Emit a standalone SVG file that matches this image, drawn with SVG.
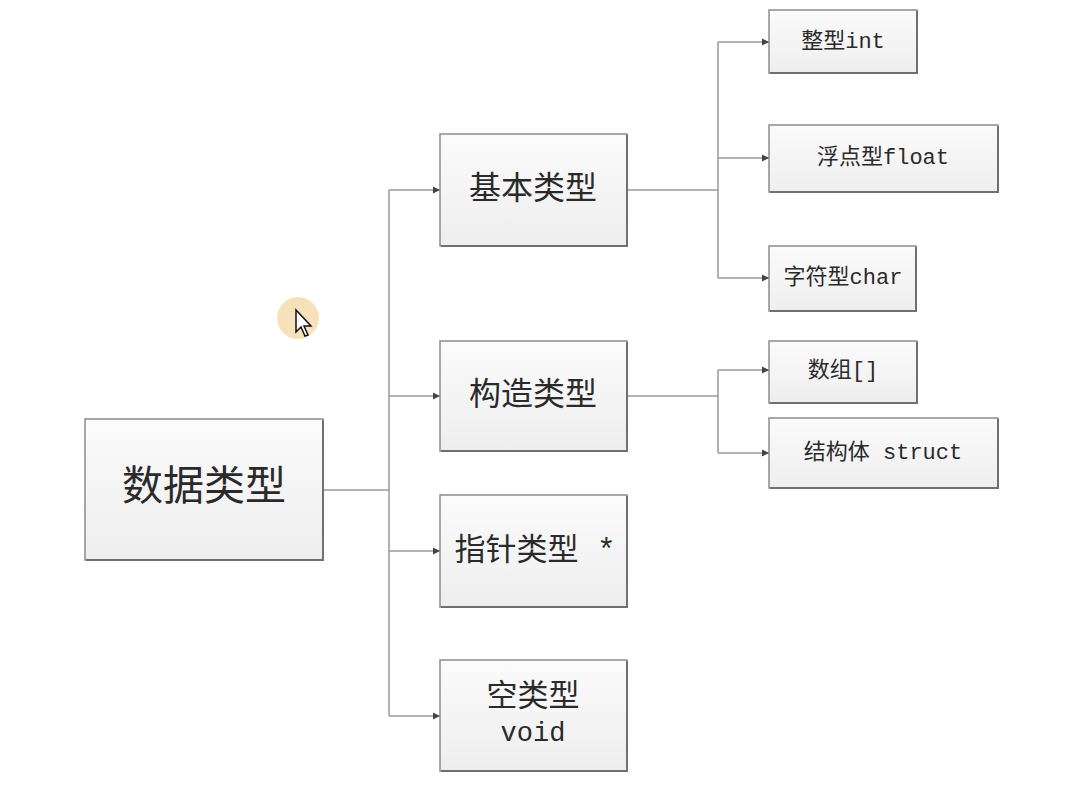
<svg xmlns="http://www.w3.org/2000/svg" width="1078" height="800" viewBox="0 0 1078 800">
<style>
.box{fill:url(#g);stroke:#8c8c8c;stroke-width:1.5}
.sh{fill:none;stroke:#707070;stroke-width:2}
.t{font-family:"Liberation Mono","Noto Sans CJK SC",monospace;fill:#2a2a2a;text-anchor:middle;dominant-baseline:central}
.c{fill:none;stroke:#9a9a9a;stroke-width:1.5}
</style>
<defs>
<linearGradient id="g" x1="0" y1="0" x2="0" y2="1">
<stop offset="0" stop-color="#fbfbfb"/>
<stop offset="1" stop-color="#eeeeee"/>
</linearGradient>
<marker id="a" markerWidth="8" markerHeight="8" refX="7" refY="4" orient="auto" markerUnits="userSpaceOnUse">
<path d="M0,0.5 L7,4 L0,7.5 z" fill="#444"/>
</marker>
</defs>
<rect width="1078" height="800" fill="#ffffff"/>
<g id="cursor">
<circle cx="298" cy="318" r="21" fill="#f6dcae" opacity="0.85"/>
<path d="M296,310 L296,332 L301,327 L305,336 L308,335 L304,326 L311,326 z" fill="#fff" stroke="#111" stroke-width="1.5"/>
</g>
<g id="connectors">
<path class="c" d="M323,490 H389"/>
<path class="c" d="M389,190 V716"/>
<path class="c" d="M389,190 H440" marker-end="url(#a)"/>
<path class="c" d="M389,396 H440" marker-end="url(#a)"/>
<path class="c" d="M389,551 H440" marker-end="url(#a)"/>
<path class="c" d="M389,716 H440" marker-end="url(#a)"/>
<path class="c" d="M627,190 H718"/>
<path class="c" d="M718,42 V278"/>
<path class="c" d="M718,42 H769" marker-end="url(#a)"/>
<path class="c" d="M718,158 H769" marker-end="url(#a)"/>
<path class="c" d="M718,278 H769" marker-end="url(#a)"/>
<path class="c" d="M627,396 H718"/>
<path class="c" d="M718,370 V453"/>
<path class="c" d="M718,370 H769" marker-end="url(#a)"/>
<path class="c" d="M718,453 H769" marker-end="url(#a)"/>
</g>
<g id="root">
<rect class="box" x="85" y="419" width="238" height="141"/>
<path class="sh" d="M323,420 V560 H86"/>
<text class="t" x="204" y="489" font-size="41">数据类型</text>
</g>
<g id="basic">
<rect class="box" x="440" y="134" width="187" height="112"/>
<path class="sh" d="M627,135 V246 H441"/>
<text class="t" x="533" y="190" font-size="32">基本类型</text>
</g>
<g id="construct">
<rect class="box" x="440" y="341" width="187" height="110"/>
<path class="sh" d="M627,342 V451 H441"/>
<text class="t" x="533" y="396" font-size="32">构造类型</text>
</g>
<g id="pointer">
<rect class="box" x="440" y="495" width="187" height="112"/>
<path class="sh" d="M627,496 V607 H441"/>
<text class="t" x="535" y="551" font-size="31">指针类型 *</text>
</g>
<g id="void">
<rect class="box" x="440" y="660" width="187" height="111"/>
<path class="sh" d="M627,661 V771 H441"/>
<text class="t" x="533" y="697" font-size="31">空类型</text>
<text class="t" x="533" y="734" font-size="27">void</text>
</g>
<g id="int">
<rect class="box" x="769" y="10" width="148" height="63"/>
<path class="sh" d="M917,11 V73 H770"/>
<text class="t" x="843" y="42" font-size="22">整型int</text>
</g>
<g id="float">
<rect class="box" x="769" y="125" width="229" height="67"/>
<path class="sh" d="M998,126 V192 H770"/>
<text class="t" x="883" y="158" font-size="22">浮点型float</text>
</g>
<g id="char">
<rect class="box" x="769" y="246" width="147" height="65"/>
<path class="sh" d="M916,247 V311 H770"/>
<text class="t" x="843" y="278" font-size="22">字符型char</text>
</g>
<g id="array">
<rect class="box" x="769" y="341" width="148" height="62"/>
<path class="sh" d="M917,342 V403 H770"/>
<text class="t" x="843" y="371" font-size="22">数组[]</text>
</g>
<g id="struct">
<rect class="box" x="769" y="418" width="229" height="70"/>
<path class="sh" d="M998,419 V488 H770"/>
<text class="t" x="883" y="453" font-size="22">结构体 struct</text>
</g>
</svg>
